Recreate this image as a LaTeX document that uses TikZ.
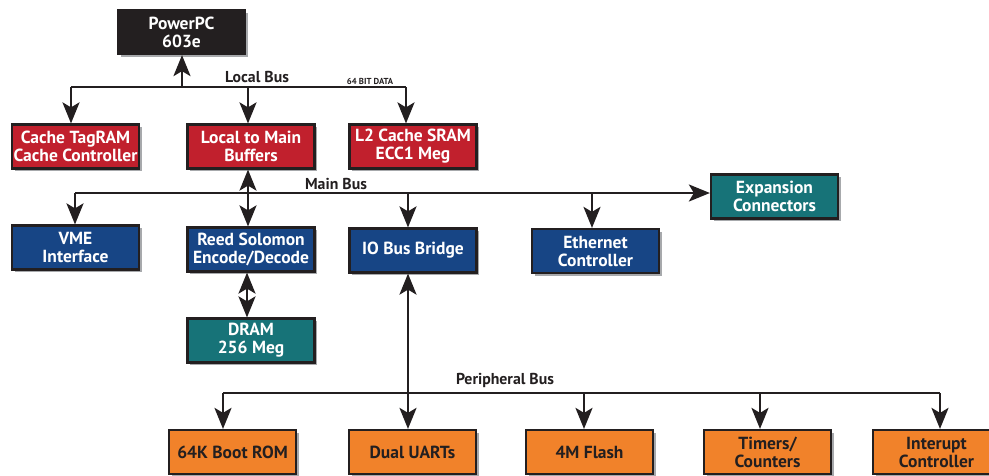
\documentclass[tikz,border=0pt]{standalone}
\usepackage{fontspec}
\setmainfont{PT Sans}
\usetikzlibrary{arrows.meta,shadows}
\definecolor{ink}{HTML}{231F20}
\definecolor{cred}{HTML}{C1202D}
\definecolor{cblue}{HTML}{174585}
\definecolor{cteal}{HTML}{177378}
\definecolor{corange}{HTML}{F1822A}
\definecolor{shad}{HTML}{A7A9AC}
\tikzset{
  blk/.style={draw=ink, line width=2.2pt, minimum width=127pt, minimum height=44pt,
    inner sep=0pt, align=center, text=white,
    font=\bfseries\fontsize{17.5}{18}\selectfont,
    drop shadow={shadow xshift=2.5pt, shadow yshift=-2.5pt, fill=shad, opacity=1}},
  blkblack/.style={blk, fill=ink},
  blkred/.style={blk, fill=cred},
  blkblue/.style={blk, fill=cblue},
  blkteal/.style={blk, fill=cteal},
  blkorange/.style={blk, fill=corange, text=ink},
  bus/.style={draw=ink, line width=2.5pt},
  tip/.tip={Stealth[length=21pt,width=17pt,inset=5pt]},
  arr/.style={bus, -tip},
  darr/.style={bus, tip-tip},
  buslabel/.style={text=ink, font=\bfseries\fontsize{15.8}{17}\selectfont, inner sep=0pt},
}
\begin{document}
\begin{tikzpicture}[x=1pt,y=-1pt]
\useasboundingbox (0,0) rectangle (989,475);
% boxes
\node[blkblack] (ppc) at (181.5,32) {PowerPC\\603e};
\node[blkred] (ctc) at (75.5,146.5) {Cache TagRAM\\Cache Controller};
\node[blkred] (ltm) at (251,146.5) {Local to Main\\Buffers};
\node[blkred] (l2) at (413,146.5) {L2 Cache SRAM\\ECC1 Meg};
\node[blkblue] (vme) at (75.5,247.5) {VME\\Interface};
\node[blkblue] (rs) at (251,249.5) {Reed Solomon\\Encode/Decode};
\node[blkblue] (io) at (413,250.5) {IO Bus Bridge};
\node[blkblue] (eth) at (595.5,251) {Ethernet\\Controller};
\node[blkteal] (exp) at (774.5,196.5) {Expansion\\Connectors};
\node[blkteal] (dram) at (251,340.5) {DRAM\\256 Meg};
\node[blkorange] (rom) at (232.5,452) {64K Boot ROM};
\node[blkorange] (uart) at (412.5,452) {Dual UARTs};
\node[blkorange] (flash) at (589.5,452) {4M Flash};
\node[blkorange] (tim) at (767.5,452) {Timers/\\Counters};
\node[blkorange] (intc) at (936.5,452) {Interupt\\Controller};
% local bus
\coordinate (lbL) at (71,87);
\coordinate (lbR) at (406,87);
\coordinate (lbP) at (182,87);
\coordinate (lbM) at (248,87);
\draw[bus] (lbL) -- (lbR);
\draw[arr] (lbP) -- (lbP |- ppc.south);
\draw[arr] (lbL) -- (lbL |- ctc.north);
\draw[arr] (lbM) -- (lbM |- ltm.north);
\draw[arr] (lbR) -- (lbR |- l2.north);
\node[buslabel] (lblocal) at (257,77) {Local Bus};
\node[text=ink, font=\bfseries\fontsize{8.7}{9}\selectfont, inner sep=0pt] (lb64) at (370,81) {64 BIT DATA};
% main bus
\coordinate (mbL) at (75,193);
\coordinate (mbM) at (248,193);
\coordinate (mbI) at (408,193);
\coordinate (mbE) at (592,193);
\draw[arr] (mbL) -- (mbL -| exp.west);
\draw[arr] (mbL) -- (mbL |- vme.north);
\draw[darr] (mbM |- ltm.south) -- (mbM |- rs.north);
\draw[arr] (mbI) -- (mbI |- io.north);
\draw[arr] (mbE) -- (mbE |- eth.north);
\node[buslabel] (lbmain) at (336,184) {Main Bus};
% DRAM
\coordinate (rd) at (247,300);
\draw[darr] (rd |- rs.south) -- (rd |- dram.north);
% peripheral bus
\coordinate (pbL) at (223,393);
\coordinate (pbR) at (940,393);
\coordinate (pbU) at (408,393);
\coordinate (pbF) at (584,393);
\coordinate (pbT) at (760,393);
\draw[bus] (pbL) -- (pbR);
\draw[darr] (pbU |- io.south) -- (pbU |- uart.north);
\draw[arr] (pbL) -- (pbL |- rom.north);
\draw[arr] (pbF) -- (pbF |- flash.north);
\draw[arr] (pbT) -- (pbT |- tim.north);
\draw[arr] (pbR) -- (pbR |- intc.north);
\node[buslabel] (lbper) at (505,380) {Peripheral Bus};
\end{tikzpicture}
\end{document}
